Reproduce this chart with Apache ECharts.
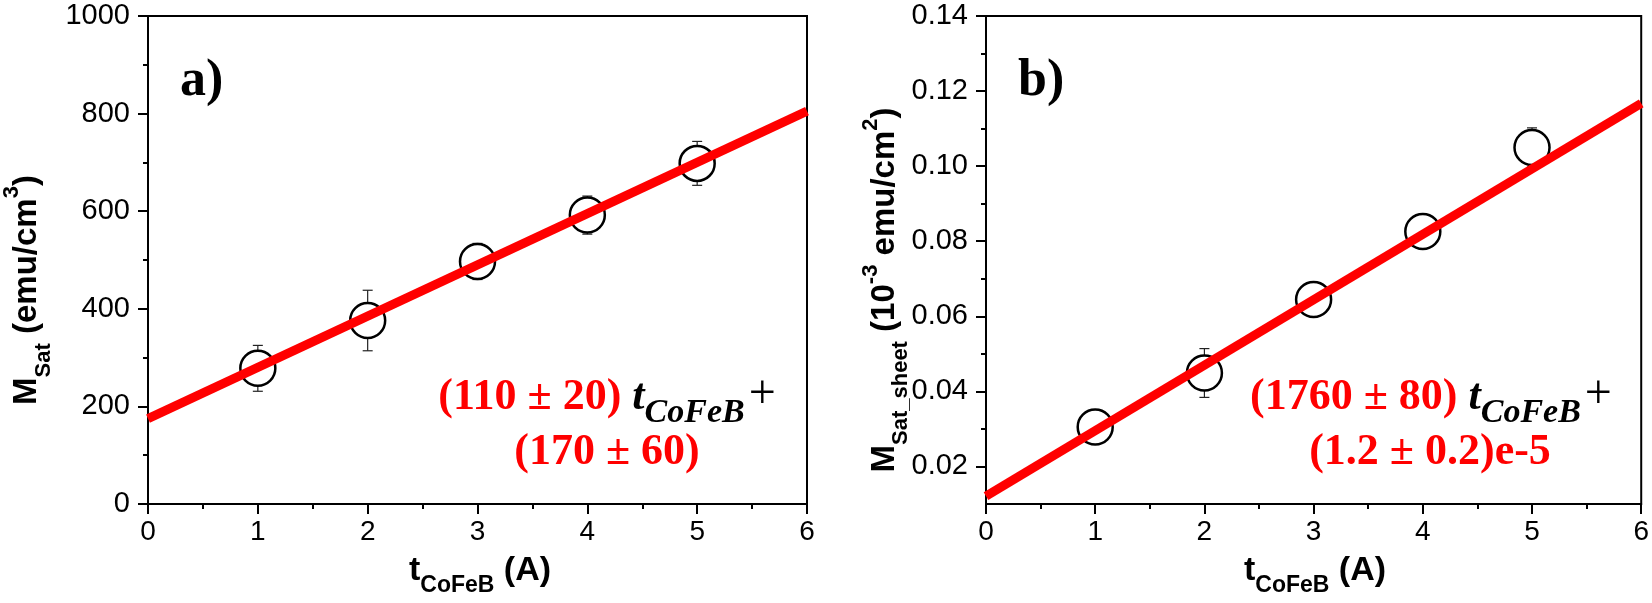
<!DOCTYPE html>
<html>
<head>
<meta charset="utf-8">
<script src="https://cdn.jsdelivr.net/npm/echarts@6/dist/echarts.min.js"></script>
<style>
html,body{margin:0;padding:0;background:#fff;}
#chart{width:1652px;height:603px;}
</style>
</head>
<body>
<div id="chart"></div>
<script>
// ---------- data ----------
const tCoFeB = [1, 2, 3, 4, 5];
// panel a) M_Sat (emu/cm^3)
const msatA = [278, 376, 497, 592, 698];
const errA = [47, 62, 37, 39, 45];
const fitAx = [0, 6];
const fitAy = [175, 805];
// panel b) M_Sat_sheet (10^-3 emu/cm^2)
const msatB = [0.0305, 0.0449, 0.0645, 0.0826, 0.1050];
const errB = [0.002, 0.0065, 0.0035, 0.003, 0.0052];
const fitBx = [0, 6];
const fitBy = [0.0121, 0.1167];
// tick labels
const xTicks = [0, 1, 2, 3, 4, 5, 6];
const yTicksA = [0, 200, 400, 600, 800, 1000];
const yTicksB = [0.02, 0.04, 0.06, 0.08, 0.10, 0.12, 0.14];
const yMinorB = [0.03, 0.05, 0.07, 0.09, 0.11, 0.13];

// ---------- text helpers ----------
const mctx = document.createElement('canvas').getContext('2d');
function tw(text, font) { mctx.font = font; return mctx.measureText(text).width; }
function midK(font) {
  mctx.font = font; mctx.textBaseline = 'alphabetic';
  const m = mctx.measureText('Hg');
  if (m.fontBoundingBoxAscent !== undefined) {
    return (m.fontBoundingBoxAscent - m.fontBoundingBoxDescent) / 2;
  }
  return null;
}
function run(segs, ax, baseline, align) {
  const widths = segs.map(s => tw(s.text, s.font) + (s.dx || 0));
  const total = widths.reduce((a, b) => a + b, 0);
  let x = align === 'center' ? ax - total / 2 : ax;
  const out = [];
  segs.forEach((s, i) => {
    let k = midK(s.font);
    if (k === null) k = 0.35 * s.size;
    out.push({
      type: 'text', x: x + (s.dx || 0), y: baseline + (s.dy || 0) - k, silent: true,
      style: { text: s.text, font: s.font, fill: s.fill || '#000',
        align: 'left', verticalAlign: 'middle', textAlign: 'left', textVerticalAlign: 'middle' }
    });
    x += widths[i];
  });
  return out;
}
const SANS = '"Liberation Sans", Arial, sans-serif';
const SERIF = '"Liberation Serif", "Times New Roman", serif';
function sb(size) { return 'bold ' + size + 'px ' + SANS; }
function rb(size) { return 'bold ' + size + 'px ' + SERIF; }
function rbi(size) { return 'italic bold ' + size + 'px ' + SERIF; }
function rn(size) { return 'normal ' + size + 'px ' + SERIF; }
function seg(text, font, size, fill, dy, dx) { return { text, font, size, fill, dy, dx }; }

const RED = '#ff0000';
const TF = 33, TS = 22;   // y-title fonts
const XF = 34, XS = 23;   // x-title fonts
const AF = 44, AS = 34;   // annotation fonts

const graphics = [];
// y titles (rotated)
graphics.push({ type: 'group', x: 38, y: 290, rotation: Math.PI / 2, children: run([
  seg('M', sb(TF), TF), seg('Sat', sb(TS), TS, '#000', 13), seg(' (emu/cm', sb(TF), TF),
  seg('3', sb(TS), TS, '#000', -19), seg(')', sb(TF), TF)
], 0, 0, 'center') });
graphics.push({ type: 'group', x: 896, y: 290, rotation: Math.PI / 2, children: run([
  seg('M', sb(TF), TF), seg('Sat_sheet', sb(TS), TS, '#000', 12), seg(' (10', sb(TF), TF),
  seg('-3', sb(TS), TS, '#000', -18), seg(' emu/cm', sb(TF), TF),
  seg('2', sb(TS), TS, '#000', -18), seg(')', sb(TF), TF)
], 0, 0, 'center') });
// x titles
[480, 1315].forEach(cx => {
  run([seg('t', sb(XF), XF), seg('CoFeB', sb(XS), XS, '#000', 11), seg(' (A)', sb(XF), XF)], cx, 583, 'center')
    .forEach(e => graphics.push(e));
});
// panel letters
run([seg('a)', rb(52), 52)], 180, 99, 'left').forEach(e => graphics.push(e));
run([seg('b)', rb(52), 52)], 1018, 99, 'left').forEach(e => graphics.push(e));
// fit annotations
run([seg('(110 ± 20) ', rb(AF), AF, RED), seg('t', rbi(AF), AF), seg('CoFeB', rbi(AS), AS, '#000', 13),
     seg('+', rn(48), 48, '#000', 0, 4)], 607, 412, 'center')
  .forEach(e => graphics.push(e));
run([seg('(170 ± 60)', rb(AF), AF, RED)], 607, 467, 'center').forEach(e => graphics.push(e));
run([seg('(1760 ± 80) ', rb(AF), AF, RED), seg('t', rbi(AF), AF), seg('CoFeB', rbi(AS), AS, '#000', 13),
     seg('+', rn(48), 48, '#000', 0, 4)], 1431, 412, 'center')
  .forEach(e => graphics.push(e));
run([seg('(1.2 ± 0.2)e-5', rb(AF), AF, RED)], 1430, 467, 'center').forEach(e => graphics.push(e));

// ---------- axes ----------
const lineCol = '#000';
function xAxisCfg(gi) {
  return {
    type: 'value', gridIndex: gi, min: xTicks[0], max: xTicks[xTicks.length - 1], interval: 1,
    axisLine: { show: true, onZero: false, lineStyle: { color: lineCol, width: 2 } },
    axisTick: { show: true, length: 10, inside: false, lineStyle: { color: lineCol, width: 2 } },
    minorTick: { show: true, splitNumber: 2, length: 5, lineStyle: { color: lineCol, width: 2 } },
    axisLabel: { fontSize: 28, color: '#000', fontFamily: SANS, margin: 14,
      customValues: xTicks, formatter: v => String(v) },
    splitLine: { show: false }, minorSplitLine: { show: false }
  };
}
const yAxisA = {
  type: 'value', gridIndex: 0, position: 'left', min: yTicksA[0], max: yTicksA[yTicksA.length - 1], interval: 200,
  axisLine: { show: true, onZero: false, lineStyle: { color: lineCol, width: 2 } },
  axisTick: { show: true, length: 10, lineStyle: { color: lineCol, width: 2 } },
  minorTick: { show: true, splitNumber: 2, length: 5, lineStyle: { color: lineCol, width: 2 } },
  axisLabel: { fontSize: 29, color: '#000', fontFamily: SANS, margin: 18,
    customValues: yTicksA, formatter: v => String(v) },
  splitLine: { show: false }, minorSplitLine: { show: false }
};
const yAxisB = {
  type: 'value', gridIndex: 1, position: 'left', min: 0.01, max: 0.14,
  axisLine: { show: true, onZero: false, lineStyle: { color: lineCol, width: 2 } },
  axisTick: { show: true, length: 10, customValues: yTicksB, lineStyle: { color: lineCol, width: 2 } },
  axisLabel: { fontSize: 29, color: '#000', fontFamily: SANS, margin: 18,
    customValues: yTicksB, formatter: v => Number(v).toFixed(2) },
  splitLine: { show: false }
};
const yAxisBminor = {
  type: 'value', gridIndex: 1, position: 'left', min: 0.01, max: 0.14,
  axisLine: { show: false },
  axisTick: { show: true, length: 5, customValues: yMinorB, lineStyle: { color: lineCol, width: 2 } },
  axisLabel: { show: false },
  splitLine: { show: false }
};

// ---------- series ----------
function errRender(params, api) {
  const x = api.value(0), y = api.value(1), e = api.value(2);
  const top = api.coord([x, y + e]);
  const bot = api.coord([x, y - e]);
  const hw = 5;
  const st = { stroke: '#222', lineWidth: 1.2 };
  return { type: 'group', children: [
    { type: 'line', shape: { x1: top[0], y1: top[1], x2: bot[0], y2: bot[1] }, style: st },
    { type: 'line', shape: { x1: top[0] - hw, y1: top[1], x2: top[0] + hw, y2: top[1] }, style: st },
    { type: 'line', shape: { x1: bot[0] - hw, y1: bot[1], x2: bot[0] + hw, y2: bot[1] }, style: st }
  ] };
}
function panelSeries(xi, yi, ys, errs, fx, fy) {
  return [
    { type: 'custom', xAxisIndex: xi, yAxisIndex: yi, z: 2, renderItem: errRender,
      data: tCoFeB.map((t, i) => [t, ys[i], errs[i]]) },
    { type: 'scatter', xAxisIndex: xi, yAxisIndex: yi, z: 3, symbol: 'circle', symbolSize: 35,
      itemStyle: { color: '#fff', borderColor: '#000', borderWidth: 2.5, opacity: 1 },
      data: tCoFeB.map((t, i) => [t, ys[i]]) },
    { type: 'line', xAxisIndex: xi, yAxisIndex: yi, z: 4, showSymbol: false, symbol: 'none',
      lineStyle: { color: RED, width: 9 },
      data: fx.map((x, i) => [x, fy[i]]) }
  ];
}

const chart = echarts.init(document.getElementById('chart'), null, { renderer: 'canvas' });
chart.setOption({
  animation: false,
  backgroundColor: '#fff',
  grid: [
    { left: 148, top: 16, width: 659, height: 488, show: true, borderColor: '#000', borderWidth: 2, backgroundColor: 'transparent', containLabel: false },
    { left: 986, top: 16, width: 658, height: 488, show: true, borderColor: '#000', borderWidth: 2, backgroundColor: 'transparent', containLabel: false }
  ],
  xAxis: [xAxisCfg(0), xAxisCfg(1)],
  yAxis: [yAxisA, yAxisB, yAxisBminor],
  series: [].concat(
    panelSeries(0, 0, msatA, errA, fitAx, fitAy),
    panelSeries(1, 1, msatB, errB, fitBx, fitBy)
  ),
  graphic: graphics
});
</script>
</body>
</html>
